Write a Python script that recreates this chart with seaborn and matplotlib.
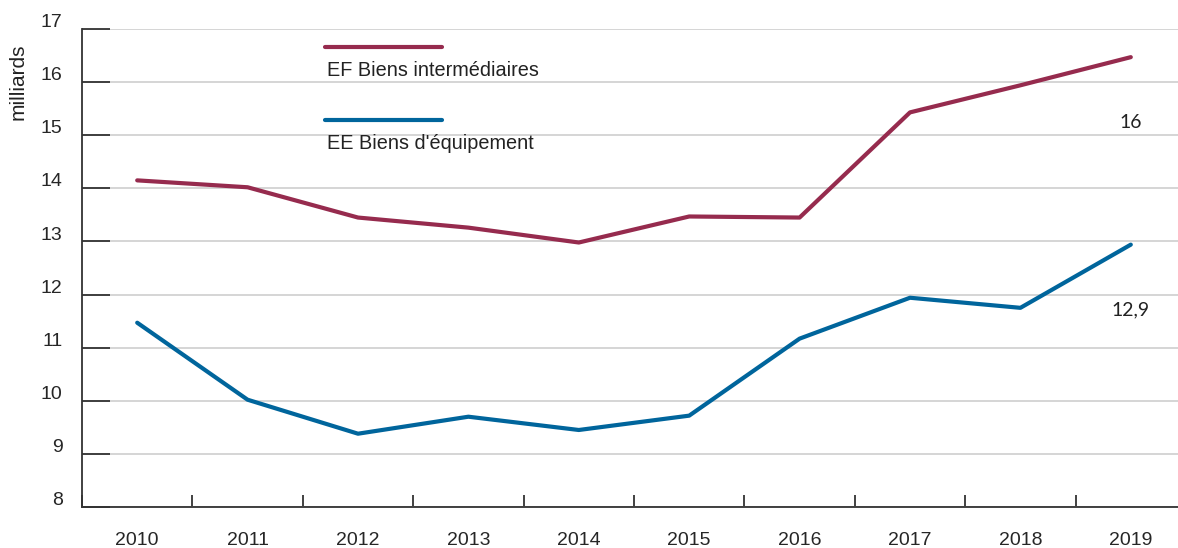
import numpy as np
import pandas as pd
import seaborn as sns
import matplotlib.pyplot as plt
from matplotlib.lines import Line2D
from matplotlib.transforms import ScaledTranslation

years = ["2010", "2011", "2012", "2013", "2014", "2015", "2016", "2017", "2018", "2019"]
ef_interm = [14.15, 14.02, 13.45, 13.26, 12.98, 13.47, 13.45, 15.43, 15.94, 16.47]
ee_equip = [11.47, 10.02, 9.38, 9.70, 9.45, 9.72, 11.17, 11.94, 11.75, 12.94]
series_names = ["EF Biens intermédiaires", "EE Biens d'équipement"]
end_labels = ["16", "12,9"]
colors = ["#962B4E", "#00659C"]

df = pd.DataFrame({
    "annee": list(range(len(years))) * 2,
    "valeur": ef_interm + ee_equip,
    "serie": [series_names[0]] * len(years) + [series_names[1]] * len(years),
})

sns.set_style("white")
plt.rcParams["font.family"] = ["Liberation Sans", "DejaVu Sans"]

fig = plt.figure(figsize=(11.78, 5.48), dpi=100)
ax = fig.add_axes([82 / 1178, 1 - 507 / 548, 1 - 82 / 1178, (507 - 29) / 548])

sns.lineplot(data=df, x="annee", y="valeur", hue="serie", palette=colors,
             linewidth=3, legend=False, ax=ax, solid_capstyle="round")

ax.set_yticks(range(8, 18))
ax.yaxis.grid(True, color="#d2d2d2", linewidth=1.3)
ax.set_axisbelow(True)
ax.tick_params(axis="y", left=True, direction="in", length=20, width=1.3,
               color="#333333", labelsize=14, pad=14)
offset = ScaledTranslation(0, 6 / 72, fig.dpi_scale_trans)
for lab in ax.get_yticklabels():
    lab.set_transform(lab.get_transform() + offset)

ax.set_xticks(np.arange(-0.5, len(years) - 1, 1.0))
ax.set_xticklabels([])
ax.set_xticks(range(len(years)), minor=True)
ax.set_xticklabels(years, minor=True)
ax.tick_params(axis="x", which="major", bottom=True, direction="in", length=9,
               width=1.3, color="#333333")
ax.tick_params(axis="x", which="minor", bottom=True, length=0, labelsize=14, pad=18)
ax.set_xlabel("")
ax.set_ylabel("")

ax.set_xlim(-0.5, (1178 - 82) / 110.4 - 0.5)
ax.set_ylim(8, 17)

for side in ["top", "right"]:
    ax.spines[side].set_visible(False)
for side in ["left", "bottom"]:
    ax.spines[side].set_color("#333333")
    ax.spines[side].set_linewidth(1.3)

# end-of-series labels
for vals, txt in zip([ef_interm, ee_equip], end_labels):
    ax.annotate(txt, xy=(len(years) - 1, vals[-1]), xytext=(0, -47),
                textcoords="offset points", ha="center", va="center",
                fontsize=14, family=["Lato", "DejaVu Sans"], color="#222222")

# legend keys with text below
for i, (name, col) in enumerate(zip(series_names, colors)):
    y_line = 1 - (47 + 73 * i) / 548
    fig.add_artist(Line2D([325 / 1178, 442 / 1178], [y_line, y_line], color=col,
                          linewidth=3, solid_capstyle="round"))
    fig.text(327 / 1178, y_line - 24 / 548, name, fontsize=14.3, va="center",
             ha="left", color="#222222")

fig.text(18 / 1178, 1 - 82 / 548, "milliards", rotation=90, ha="center", va="center",
         fontsize=15, color="#222222")

fig.savefig("out.png", dpi=100)
